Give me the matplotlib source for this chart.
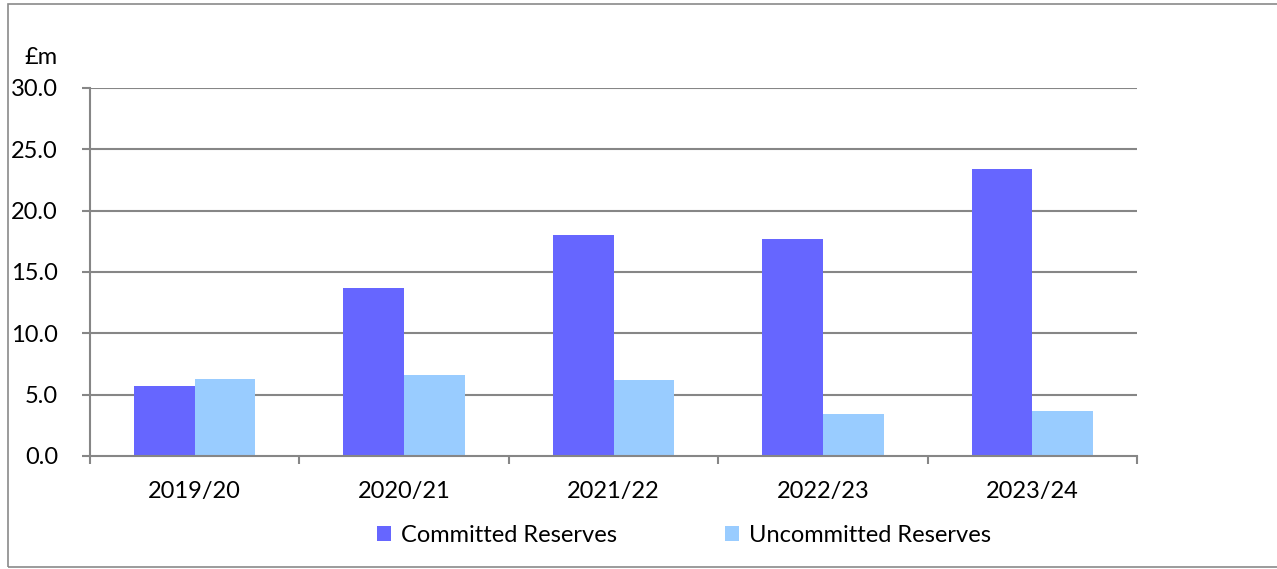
import matplotlib
matplotlib.use("Agg")
import matplotlib.pyplot as plt
import numpy as np
from matplotlib.patches import Rectangle

years = ["2019/20", "2020/21", "2021/22", "2022/23", "2023/24"]
committed = [5.7, 13.7, 18.0, 17.7, 23.4]
uncommitted = [6.3, 6.6, 6.2, 3.4, 3.7]
yticks = [0, 5, 10, 15, 20, 25, 30]

plt.rcParams["font.family"] = ["Lato", "DejaVu Sans"]
fs = 17

fig = plt.figure(figsize=(12.77, 5.69), dpi=100)
ax = fig.add_axes([90 / 1277, 1 - 456 / 569, 1047 / 1277, 368 / 569])

x = np.arange(len(years))
w = 0.29
ax.bar(x - w / 2, committed, w, color="#6666FF", label="Committed Reserves")
ax.bar(x + w / 2, uncommitted, w, color="#99CCFF", label="Uncommitted Reserves")

grid_c = "#868686"
ax.set_ylim(0, 30)
ax.set_xlim(-0.5, len(years) - 0.5)
ax.set_yticks(yticks)
ax.set_yticklabels([f"{v:.1f}" for v in yticks], fontsize=fs)
ax.set_xticks(x)
ax.set_xticklabels(years, fontsize=fs)
ax.set_xticks(np.arange(len(years) + 1) - 0.5, minor=True)
ax.tick_params(axis="x", which="major", length=0, pad=18)
ax.tick_params(axis="x", which="minor", length=6, width=1.5, color=grid_c)
ax.tick_params(axis="y", length=6, width=1.5, color=grid_c, pad=17)
for t in yticks[1:]:
    ax.axhline(t, color=grid_c, lw=1.5, zorder=0)
for s in ["top", "right"]:
    ax.spines[s].set_visible(False)
for s in ["left", "bottom"]:
    ax.spines[s].set_color(grid_c)
    ax.spines[s].set_linewidth(1.5)

fig.text(24 / 1277, 1 - 57 / 569, "£m", fontsize=fs, va="center", ha="left")

ax.legend(loc="center", bbox_to_anchor=(684 / 1277, 1 - 535 / 569), bbox_transform=fig.transFigure,
          ncol=2, frameon=False, fontsize=fs, handlelength=0.6, handleheight=0.6,
          handletextpad=0.4, columnspacing=4.6, borderpad=0, borderaxespad=0)

fig.patches.append(Rectangle((8 / 1277, 1 - 567 / 569), 1.0, 563 / 569,
                             transform=fig.transFigure, fill=False,
                             edgecolor="#8a8a8a", lw=1.2))

fig.savefig("out.png", dpi=100)
